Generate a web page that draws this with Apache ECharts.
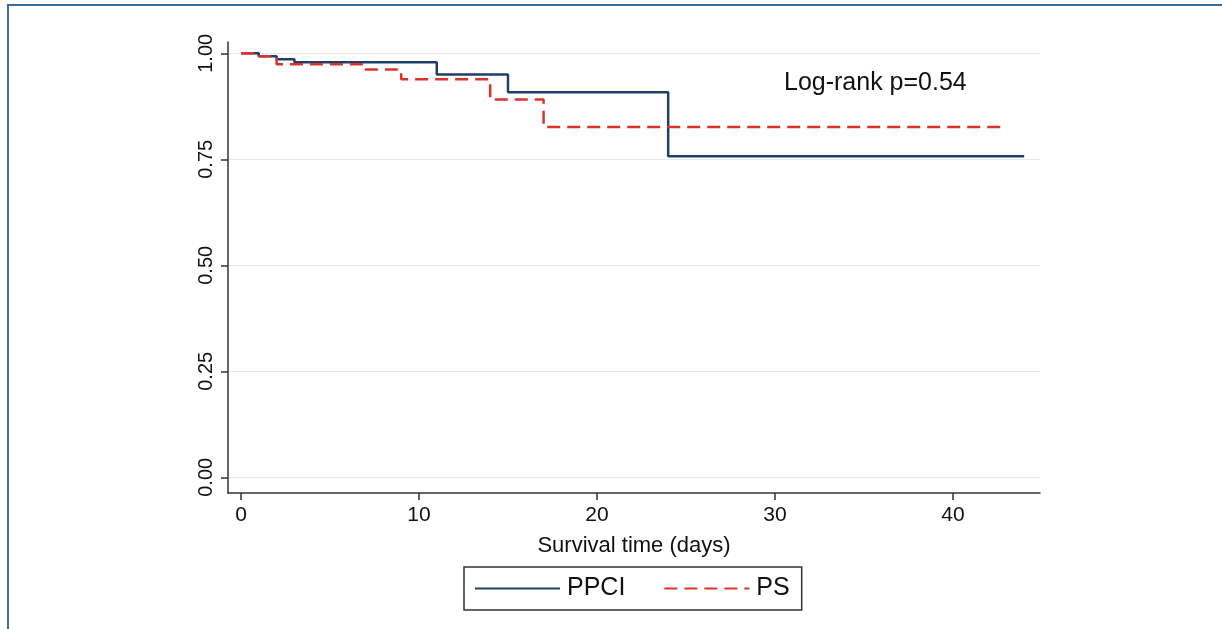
<!DOCTYPE html>
<html>
<head>
<meta charset="utf-8">
<script src="https://cdn.jsdelivr.net/npm/echarts@6/dist/echarts.min.js"></script>
<style>
html,body{margin:0;padding:0;background:#ffffff;}
#chart{width:1222px;height:629px;}
</style>
</head>
<body>
<div id="chart"></div>
<script>
// Kaplan-Meier step data: [time (days), survival]
const ppciTimes = [0, 1, 2, 3, 11, 15, 24, 44];
const ppciSurv  = [1.000, 0.993, 0.986, 0.979, 0.950, 0.908, 0.757, 0.757];
const psTimes   = [0, 1, 2, 7, 9, 14, 17, 43];
const psSurv    = [1.000, 0.993, 0.974, 0.962, 0.939, 0.891, 0.826, 0.826];
const xTicks = [0, 10, 20, 30, 40];
const yTicks = [0, 0.25, 0.5, 0.75, 1.0];
const seriesNames = ['PPCI', 'PS'];
const annotation = 'Log-rank p=0.54';
const xTitle = 'Survival time (days)';

const pair = (t, s) => t.map((v, i) => [v, s[i]]);
const FONT = '"Liberation Sans", Arial, sans-serif';

const chart = echarts.init(document.getElementById('chart'), null, {renderer: 'canvas'});
chart.setOption({
  backgroundColor: '#ffffff',
  animation: false,
  grid: {left: 228, right: 182, top: 42, bottom: 136, containLabel: false},
  xAxis: {
    type: 'value', min: -0.73, max: 44.89,
    name: xTitle, nameLocation: 'middle', nameGap: 42,
    nameTextStyle: {fontFamily: FONT, fontSize: 22, color: '#111'},
    axisLine: {show: true, onZero: false, lineStyle: {color: '#333', width: 1.5}},
    axisTick: {show: true, length: 7, lineStyle: {color: '#333', width: 1.5}, customValues: xTicks},
    axisLabel: {fontFamily: FONT, fontSize: 21, color: '#111', margin: 12, customValues: xTicks},
    splitLine: {show: false}
  },
  yAxis: {
    type: 'value', min: -0.037, max: 1.0267,
    axisLine: {show: true, onZero: false, lineStyle: {color: '#333', width: 1.5}},
    axisTick: {show: true, length: 7, lineStyle: {color: '#333', width: 1.5}, customValues: yTicks},
    axisLabel: {fontFamily: FONT, fontSize: 20, color: '#111', margin: 12, rotate: 90,
      customValues: yTicks, formatter: v => v.toFixed(2)},
    splitLine: {show: true, lineStyle: {color: '#e3e9ed', width: 1.2}}
  },
  legend: {
    data: seriesNames,
    left: 464, top: 567,
    orient: 'horizontal',
    padding: [9, 12, 9, 10],
    itemWidth: 85, itemHeight: 14, itemGap: 38,
    borderColor: '#333', borderWidth: 1.5,
    itemStyle: {opacity: 0},
    textStyle: {fontFamily: FONT, fontSize: 25, color: '#111', padding: [0, 0, 0, 2]}
  },
  graphic: [
    {type: 'rect', silent: true, z: -10,
      shape: {x: 8, y: 5, width: 1300, height: 700},
      style: {fill: 'none', stroke: '#3f6a9c', lineWidth: 2}},
    {type: 'text', x: 784, y: 83, silent: true,
      style: {text: annotation, font: '25px "Liberation Sans", Arial, sans-serif', fill: '#111',
        textVerticalAlign: 'middle'}}
  ],
  series: [
    {name: seriesNames[0], type: 'line', step: 'end', symbol: 'none',
      data: pair(ppciTimes, ppciSurv),
      lineStyle: {color: '#1f3e69', width: 2.5}, itemStyle: {color: '#1f3e69'}},
    {name: seriesNames[1], type: 'line', step: 'end', symbol: 'none',
      data: pair(psTimes, psSurv),
      lineStyle: {color: '#dc3228', width: 2.5, type: [13, 7]}, itemStyle: {color: '#dc3228'}}
  ]
});
</script>
</body>
</html>
